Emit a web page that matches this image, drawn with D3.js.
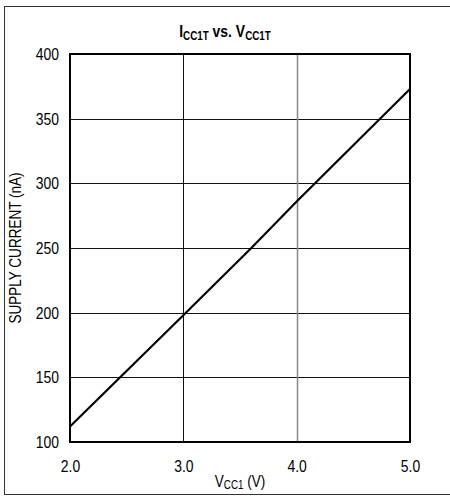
<!DOCTYPE html>
<html>
<head>
<meta charset="utf-8">
<script src="https://cdn.jsdelivr.net/npm/d3@7"></script>
<style>
  body { margin: 0; background: #fff; }
  text { font-family: "Liberation Sans", Arial, sans-serif; fill: #000; }
</style>
</head>
<body>
<div id="chart"></div>
<script>
// values
const voltage = [2.0, 3.0, 3.6, 4.0, 5.0];
const current = [112, 198, 250, 286, 373];
const xTicks = [2.0, 3.0, 4.0, 5.0];
const yTicks = [100, 150, 200, 250, 300, 350, 400];

const width = 450, height = 496;
const margin = { top: 54, right: 40, bottom: 54, left: 70 };
const SX = 0.82; // squeeze text horizontally, the original uses a narrow face

const svg = d3.select('#chart').append('svg')
  .attr('width', width)
  .attr('height', height);

// outer frame
svg.append('rect')
  .attr('x', 4.5).attr('y', 6.5)
  .attr('width', width + 10).attr('height', 488)
  .attr('fill', 'none')
  .attr('stroke', '#333')
  .attr('stroke-width', 1);

const x = d3.scaleLinear().domain([2, 5]).range([margin.left, width - margin.right]);
const y = d3.scaleLinear().domain([100, 400]).range([height - margin.bottom, margin.top]);

function narrow(sel) {
  sel.each(function() {
    const t = d3.select(this);
    const tx = +t.attr('x') || 0;
    t.attr('x', 0).attr('transform', `translate(${tx},0) scale(${SX},1)`);
  });
}

// grid
svg.append('g').selectAll('line')
  .data(yTicks.slice(1, -1))
  .join('line')
    .attr('x1', x(2)).attr('x2', x(5))
    .attr('y1', d => Math.round(y(d)) + 0.5).attr('y2', d => Math.round(y(d)) + 0.5)
    .attr('stroke', '#111').attr('stroke-width', 1);

svg.append('g').selectAll('line')
  .data(xTicks.slice(1, -1))
  .join('line')
    .attr('x1', d => Math.round(x(d)) + 0.5).attr('x2', d => Math.round(x(d)) + 0.5)
    .attr('y1', y(100)).attr('y2', y(400))
    .attr('stroke', d => d === 4.0 ? '#888' : '#111')
    .attr('stroke-width', d => d === 4.0 ? 1.5 : 1);

// plot frame
svg.append('rect')
  .attr('x', x(2)).attr('y', y(400))
  .attr('width', x(5) - x(2)).attr('height', y(100) - y(400))
  .attr('fill', 'none')
  .attr('stroke', '#000')
  .attr('stroke-width', 2);

// axes (labels only)
const yAxis = d3.axisLeft(y).tickValues(yTicks).tickSize(0).tickPadding(11).tickFormat(d3.format('d'));
const gy = svg.append('g')
  .attr('transform', `translate(${x(2)},0)`)
  .call(yAxis);
gy.select('.domain').remove();
gy.selectAll('text').attr('font-size', 17).attr('font-family', null).call(narrow);

const xAxis = d3.axisBottom(x).tickValues(xTicks).tickSize(0).tickPadding(18).tickFormat(d3.format('.1f'));
const gx = svg.append('g')
  .attr('transform', `translate(0,${y(100)})`)
  .call(xAxis);
gx.select('.domain').remove();
gx.selectAll('text').attr('font-size', 17).attr('font-family', null).call(narrow);

// data line
const line = d3.line()
  .x((d, i) => x(voltage[i]))
  .y(d => y(d));

svg.append('path')
  .datum(current)
  .attr('fill', 'none')
  .attr('stroke', '#000')
  .attr('stroke-width', 2.2)
  .attr('d', line);

// title
const title = svg.append('text')
  .attr('transform', `translate(225,37) scale(${SX},1)`)
  .attr('text-anchor', 'middle')
  .attr('font-size', 17)
  .attr('font-weight', 'bold');
title.append('tspan').text('I');
title.append('tspan').attr('font-size', 12).attr('dy', 3).text('CC1T');
title.append('tspan').attr('dy', -3).text(' vs. V');
title.append('tspan').attr('font-size', 12).attr('dy', 3).text('CC1T');

// x label
const xl = svg.append('text')
  .attr('transform', `translate(240,487) scale(${SX},1)`)
  .attr('text-anchor', 'middle')
  .attr('font-size', 16.5);
xl.append('tspan').text('V');
xl.append('tspan').attr('font-size', 12).attr('dy', 2).text('CC1');
xl.append('tspan').attr('dy', -2).text(' (V)');

// y label
svg.append('text')
  .attr('transform', `translate(21,${(y(100) + y(400)) / 2}) rotate(-90) scale(${SX},1)`)
  .attr('text-anchor', 'middle')
  .attr('font-size', 16.5)
  .text('SUPPLY CURRENT (nA)');
</script>
</body>
</html>
